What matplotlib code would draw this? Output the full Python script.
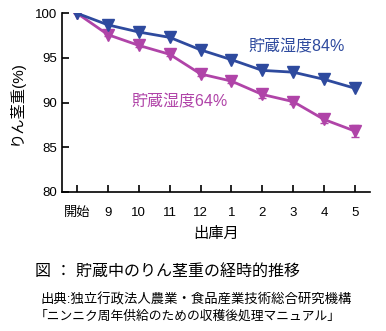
import numpy as np
import matplotlib
matplotlib.use("Agg")
import matplotlib.pyplot as plt

plt.rcParams['font.family'] = ['Liberation Sans', 'Noto Sans CJK JP', 'DejaVu Sans']

# data
months = ['開始', '9', '10', '11', '12', '1', '2', '3', '4', '5']
humid84 = [100, 98.7, 97.9, 97.3, 95.9, 94.8, 93.6, 93.4, 92.6, 91.6]
humid64 = [100, 97.6, 96.4, 95.4, 93.2, 92.4, 90.9, 90.1, 88.1, 86.8]
err64 = [0, 0.2, 0.2, 0.2, 0.2, 0.2, 0.35, 0.3, 0.4, 0.7]

blue = '#2e4a9e'
pink = '#b044a8'

fig = plt.figure(figsize=(3.86, 3.31), dpi=100)
ax = fig.add_axes([62/386, 139.3/331, 308/386, 178.4/331])

x = np.arange(len(months))
ax.errorbar(x, humid64, yerr=err64, color=pink, marker='v', markersize=9,
            linewidth=2, capsize=3, elinewidth=1.2, zorder=2)
ax.plot(x, humid84, color=blue, marker='v', markersize=9, linewidth=2, zorder=3)

ax.set_xlim(-0.49, 9.49)
ax.set_ylim(80, 100)
ax.set_xticks(x)
ax.set_xticklabels(months, fontsize=9.5)
ax.get_xticklabels()[0].set_fontsize(11)
ax.set_yticks([80, 85, 90, 95, 100])
ax.tick_params(axis='both', direction='in', length=5, width=1.2, labelsize=9.5)
ax.tick_params(axis='x', pad=11)
ax.spines['top'].set_visible(False)
ax.spines['right'].set_visible(False)
ax.spines['left'].set_linewidth(1.2)
ax.spines['bottom'].set_linewidth(1.2)

ax.set_xlabel('出庫月', fontsize=11, labelpad=6)
ax.set_ylabel('りん茎重(%)', fontsize=11, labelpad=8)

ax.text(297/386, 1 - 47/331, '貯蔵湿度84%', transform=fig.transFigure,
        color=blue, fontsize=11.5, ha='center', va='center')
ax.text(180/386, 1 - 102/331, '貯蔵湿度64%', transform=fig.transFigure,
        color=pink, fontsize=11.5, ha='center', va='center')

fig.text(35/386, 1 - 271.5/331, '図 ： 貯蔵中のりん茎重の経時的推移', fontsize=11.5,
         ha='left', va='center')
fig.text(40/386, 1 - 300/331, '出典:独立行政法人農業・食品産業技術総合研究機構',
         fontsize=9.6, ha='left', va='center')
fig.text(35/386, 1 - 316.5/331, '「ニンニク周年供給のための収穫後処理マニュアル」',
         fontsize=9.2, ha='left', va='center')

fig.savefig('out.png', dpi=100)
